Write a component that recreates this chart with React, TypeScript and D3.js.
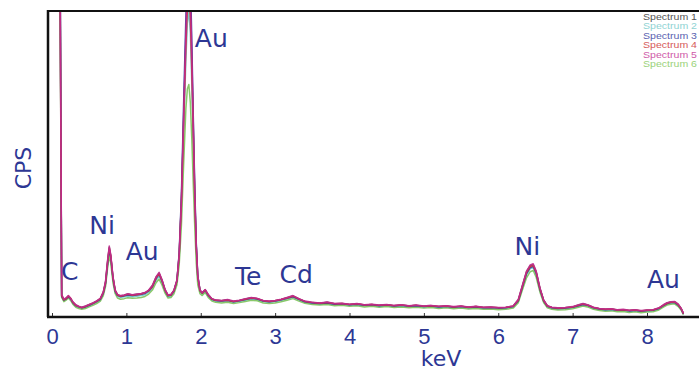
import { useEffect, useRef } from 'react'
import * as d3 from 'd3'

// energy grid shared by all six spectra (keV)
const energy = [
  0.02, 0.07, 0.11, 0.13, 0.16, 0.19, 0.22, 0.25, 0.28, 0.32,
  0.36, 0.40, 0.45, 0.50, 0.55, 0.60, 0.65, 0.69, 0.72, 0.75,
  0.77, 0.79, 0.82, 0.85, 0.88, 0.92, 0.97, 1.02, 1.08, 1.14,
  1.20, 1.25, 1.30, 1.35, 1.40, 1.44, 1.48, 1.52, 1.56, 1.60,
  1.64, 1.68, 1.71, 1.74, 1.77, 1.80, 1.82, 1.84, 1.86, 1.88,
  1.90, 1.92, 1.94, 1.96, 1.99, 2.02, 2.06, 2.10, 2.15, 2.20,
  2.28, 2.36, 2.44, 2.52, 2.60, 2.68, 2.76, 2.84, 2.92, 3.00,
  3.08, 3.16, 3.24, 3.32, 3.40, 3.50, 3.60, 3.70, 3.80, 3.90,
  4.00, 4.10, 4.20, 4.30, 4.40, 4.50, 4.60, 4.70, 4.80, 4.90,
  5.00, 5.10, 5.20, 5.30, 5.40, 5.50, 5.60, 5.70, 5.80, 5.90,
  6.00, 6.10, 6.20, 6.27, 6.32, 6.38, 6.43, 6.47, 6.51, 6.56,
  6.61, 6.66, 6.72, 6.80, 6.90, 7.00, 7.08, 7.14, 7.20, 7.28,
  7.36, 7.44, 7.52, 7.60, 7.68, 7.76, 7.84, 7.92, 8.00, 8.08,
  8.16, 8.22, 8.27, 8.32, 8.37, 8.42, 8.46, 8.49,
]

const spectrum1 = [
  1550, 1280, 1080, 70, 57, 61, 69, 60, 49, 39,
  34, 31, 35, 40, 45, 52, 60, 81, 115, 188,
  228, 200, 130, 86, 73, 69, 71, 75, 72, 74,
  76, 79, 87, 102, 130, 143, 120, 89, 71, 73,
  87, 120, 202, 378, 645, 905, 1040, 1100, 1010, 830,
  610, 390, 230, 132, 87, 79, 89, 73, 59, 55,
  53, 56, 51, 54, 59, 63, 60, 53, 51, 53,
  57, 63, 69, 59, 51, 47, 45, 48, 43, 44,
  41, 43, 39, 41, 38, 40, 37, 39, 36, 38,
  35, 37, 34, 36, 33, 35, 32, 34, 31, 32,
  30, 31, 35, 56, 98, 148, 168, 171, 148, 94,
  55, 36, 31, 29, 30, 33, 39, 43, 39, 31,
  27, 25, 26, 23, 24, 21, 23, 20, 22, 23,
  29, 39, 46, 49, 50, 41, 27, 11,
]

const spectrum2 = [
  1450, 1220, 1020, 66, 53, 58, 65, 57, 45, 35,
  31, 28, 31, 36, 42, 48, 56, 76, 106, 175,
  212, 188, 120, 80, 68, 64, 66, 68, 66, 68,
  70, 73, 81, 95, 120, 134, 112, 84, 66, 68,
  82, 114, 190, 350, 600, 840, 960, 1000, 930, 760,
  560, 360, 210, 122, 82, 74, 84, 68, 56, 52,
  50, 52, 48, 51, 55, 59, 57, 50, 48, 50,
  54, 59, 64, 56, 48, 44, 42, 44, 40, 41,
  38, 40, 36, 38, 35, 37, 34, 36, 33, 35,
  32, 34, 31, 33, 30, 32, 29, 31, 28, 29,
  27, 28, 32, 51, 90, 138, 158, 161, 139, 88,
  50, 33, 28, 26, 27, 30, 35, 39, 36, 28,
  24, 22, 23, 20, 21, 18, 20, 17, 19, 20,
  26, 35, 42, 45, 46, 37, 24, 9,
]

const spectrum3 = [
  1600, 1350, 1150, 68, 55, 59, 66, 60, 47, 37,
  33, 30, 33, 38, 44, 50, 58, 78, 110, 180,
  220, 196, 126, 84, 71, 67, 69, 72, 70, 72,
  74, 77, 85, 99, 126, 140, 117, 87, 69, 71,
  85, 118, 210, 400, 700, 980, 1150, 1250, 1120, 900,
  650, 420, 240, 135, 86, 78, 87, 71, 58, 54,
  52, 55, 50, 53, 57, 61, 59, 52, 50, 52,
  56, 61, 66, 58, 50, 46, 44, 46, 42, 43,
  40, 42, 38, 40, 37, 39, 36, 38, 35, 37,
  34, 36, 33, 35, 32, 34, 31, 33, 30, 31,
  29, 30, 34, 53, 94, 142, 162, 165, 143, 91,
  53, 35, 30, 28, 29, 32, 37, 41, 38, 30,
  26, 24, 25, 22, 23, 20, 22, 19, 21, 22,
  28, 37, 44, 47, 48, 39, 26, 10,
]

const spectrum4 = [
  1500, 1250, 1000, 70, 56, 60, 68, 62, 48, 38,
  34, 30, 34, 40, 45, 51, 60, 80, 112, 185,
  225, 200, 128, 86, 72, 68, 70, 74, 71, 73,
  75, 79, 86, 100, 128, 142, 118, 88, 70, 72,
  86, 118, 200, 370, 630, 880, 1010, 1060, 980, 800,
  590, 380, 225, 130, 86, 78, 88, 72, 59, 55,
  53, 55, 51, 54, 58, 62, 60, 53, 51, 53,
  57, 62, 68, 59, 51, 47, 45, 47, 43, 44,
  41, 43, 39, 41, 38, 40, 37, 39, 36, 38,
  35, 37, 34, 36, 33, 35, 32, 34, 31, 32,
  30, 31, 35, 55, 96, 145, 165, 168, 146, 93,
  54, 36, 31, 29, 30, 33, 38, 42, 39, 31,
  27, 25, 26, 23, 24, 21, 23, 20, 22, 23,
  29, 38, 45, 48, 49, 40, 27, 11,
]

const spectrum5 = [
  1500, 1300, 1100, 74, 58, 63, 70, 61, 50, 40,
  35, 32, 36, 41, 46, 53, 61, 82, 118, 192,
  232, 204, 132, 88, 74, 70, 72, 76, 73, 75,
  77, 80, 88, 104, 132, 146, 122, 90, 72, 74,
  88, 122, 205, 385, 660, 930, 1090, 1160, 1060, 860,
  630, 405, 235, 135, 88, 80, 90, 74, 60, 56,
  54, 57, 52, 55, 60, 64, 61, 54, 52, 54,
  58, 64, 70, 60, 52, 48, 46, 49, 44, 45,
  42, 44, 40, 42, 39, 41, 38, 40, 37, 39,
  36, 38, 35, 37, 34, 36, 33, 35, 32, 33,
  31, 32, 36, 58, 100, 150, 170, 174, 150, 96,
  56, 37, 32, 30, 31, 34, 40, 44, 40, 32,
  28, 26, 27, 24, 25, 22, 24, 21, 23, 24,
  30, 40, 47, 50, 51, 42, 28, 12,
]

const spectrum6 = [
  1400, 1200, 1050, 64, 50, 55, 62, 54, 42, 32,
  28, 25, 28, 33, 38, 44, 52, 70, 100, 165,
  200, 176, 112, 76, 62, 58, 60, 63, 61, 62,
  64, 67, 75, 88, 112, 124, 104, 78, 62, 64,
  76, 105, 170, 300, 500, 680, 745, 760, 700, 580,
  430, 290, 175, 105, 76, 70, 80, 64, 52, 48,
  46, 48, 44, 47, 51, 55, 53, 46, 44, 46,
  50, 55, 60, 52, 45, 41, 39, 41, 37, 38,
  35, 37, 33, 35, 32, 34, 31, 33, 30, 32,
  29, 31, 28, 30, 27, 29, 26, 28, 25, 26,
  24, 25, 29, 47, 85, 128, 148, 152, 130, 82,
  47, 30, 25, 23, 24, 27, 32, 36, 33, 25,
  21, 19, 20, 17, 18, 15, 17, 14, 16, 17,
  23, 32, 39, 42, 43, 34, 22, 8,
]

const legendLabels = ['Spectrum 1', 'Spectrum 2', 'Spectrum 3', 'Spectrum 4', 'Spectrum 5', 'Spectrum 6']
const xTicks = [0, 1, 2, 3, 4, 5, 6, 7, 8]

// peak annotations: label, keV of text start, CPS of text baseline
const peakLabels = ['Au', 'Ni', 'Au', 'C', 'Te', 'Cd', 'Ni', 'Au']
const peakKeV = [1.92, 0.5, 0.99, 0.12, 2.46, 3.06, 6.22, 8.0]
const peakCps = [882, 271, 186, 121, 105, 111, 203, 95]

const spectra = [spectrum1, spectrum2, spectrum3, spectrum4, spectrum5, spectrum6]
const COLORS = ['#4a4a4a', '#6cc6c8', '#2c3a9c', '#d2323c', '#c02a8e', '#7cc25a']
const LEGEND_COLORS = ['#555', '#8fd3d3', '#5a62b0', '#d65a5a', '#cf5aa8', '#9ad27a']
const DRAW_ORDER = [0, 1, 5, 2, 3, 4]

const WIDTH = 699
const HEIGHT = 371
const LEFT = 48
const TOP = 11
const BOTTOM = 317
const TEXT_BLUE = '#2d3794'

export default function App() {
  const ref = useRef<SVGSVGElement>(null)

  useEffect(() => {
    if (!ref.current) return
    const svg = d3.select(ref.current)
    svg.selectAll('*').remove()

    const x = d3.scaleLinear().domain([0, 8]).range([52, 647])
    const y = d3.scaleLinear().domain([0, 1000]).range([BOTTOM, TOP])

    svg.append('rect').attr('width', WIDTH).attr('height', HEIGHT).attr('fill', '#fff')

    svg.append('defs').append('clipPath').attr('id', 'plot-clip')
      .append('rect')
      .attr('x', LEFT + 1).attr('y', TOP)
      .attr('width', WIDTH - LEFT).attr('height', BOTTOM - TOP)

    const line = d3.line<number>()
      .x((_, i) => x(energy[i]))
      .y(d => y(d))

    const plot = svg.append('g').attr('clip-path', 'url(#plot-clip)')
    DRAW_ORDER.forEach(k => {
      plot.append('path')
        .attr('d', line(spectra[k]) ?? '')
        .attr('fill', 'none')
        .attr('stroke', COLORS[k])
        .attr('stroke-width', 1.5)
        .attr('stroke-opacity', 0.9)
        .attr('stroke-linejoin', 'round')
    })

    // frame
    svg.append('line')
      .attr('x1', LEFT).attr('x2', WIDTH).attr('y1', TOP).attr('y2', TOP)
      .attr('stroke', '#111').attr('stroke-width', 2)
    svg.append('line')
      .attr('x1', LEFT).attr('x2', LEFT).attr('y1', TOP - 1).attr('y2', BOTTOM)
      .attr('stroke', '#111').attr('stroke-width', 2.5)

    // x axis
    const xAxis = d3.axisBottom(x)
      .tickValues(xTicks)
      .tickFormat(d => String(d))
      .tickSizeInner(-4)
      .tickSizeOuter(0)
      .tickPadding(11)
    const ax = svg.append('g')
      .attr('transform', `translate(0,${BOTTOM})`)
      .call(xAxis)
    ax.select('.domain').remove()
    ax.selectAll('line').attr('stroke', '#333').attr('stroke-width', 1)
    ax.selectAll('text')
      .attr('fill', TEXT_BLUE)
      .attr('font-family', '"Liberation Sans", Arial, sans-serif')
      .attr('font-size', 22)
    svg.append('line')
      .attr('x1', LEFT - 1).attr('x2', WIDTH).attr('y1', BOTTOM).attr('y2', BOTTOM)
      .attr('stroke', '#111').attr('stroke-width', 2.5)

    svg.append('text')
      .attr('x', 441).attr('y', 366)
      .attr('text-anchor', 'middle')
      .attr('fill', TEXT_BLUE)
      .attr('font-family', '"DejaVu Sans", sans-serif')
      .attr('font-size', 22)
      .text('keV')

    svg.append('text')
      .attr('transform', 'translate(31,168) rotate(-90)')
      .attr('text-anchor', 'middle')
      .attr('fill', TEXT_BLUE)
      .attr('font-family', '"DejaVu Sans", sans-serif')
      .attr('font-size', 22)
      .text('CPS')

    // peak labels
    peakLabels.forEach((label, i) => {
      svg.append('text')
        .attr('x', x(peakKeV[i]))
        .attr('y', y(peakCps[i]))
        .attr('fill', TEXT_BLUE)
        .attr('font-family', '"DejaVu Sans", sans-serif')
        .attr('font-size', 25)
        .text(label)
    })

    // legend
    legendLabels.forEach((label, i) => {
      svg.append('text')
        .attr('x', 643)
        .attr('y', 20 + i * 9.4)
        .attr('fill', LEGEND_COLORS[i])
        .attr('font-family', '"Liberation Sans", Arial, sans-serif')
        .attr('font-size', 9)
        .attr('textLength', 54)
        .attr('lengthAdjust', 'spacingAndGlyphs')
        .text(label)
    })
  }, [])

  return (
    <svg
      ref={ref}
      width={WIDTH}
      height={HEIGHT}
      style={{ position: 'absolute', left: 0, top: 0 }}
    />
  )
}
